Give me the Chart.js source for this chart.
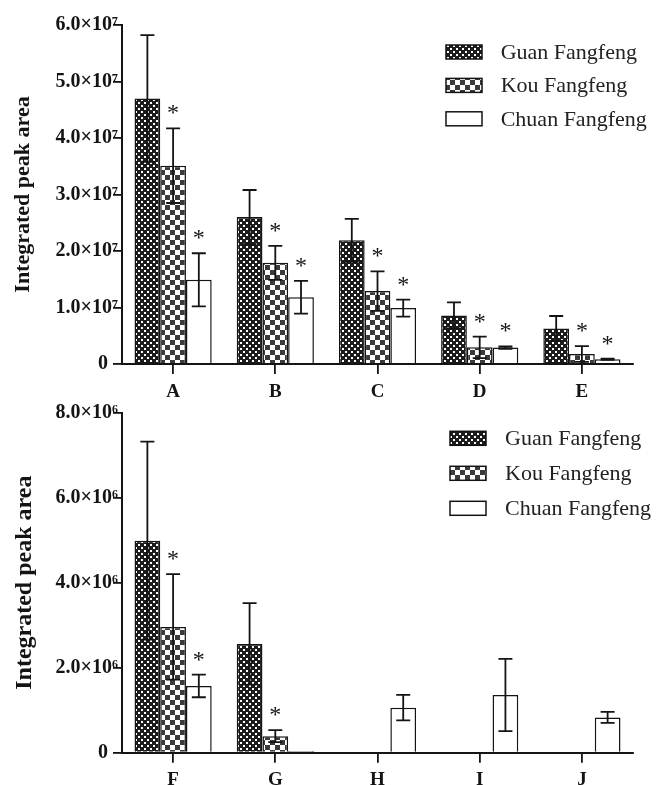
<!DOCTYPE html>
<html><head><meta charset="utf-8">
<script src="https://cdn.jsdelivr.net/npm/chart.js@4.4.1/dist/chart.umd.min.js"></script>
<style>
html,body{margin:0;padding:0;background:#fff;width:657px;height:785px;overflow:hidden}
#c1{position:absolute;left:0;top:0}
#c2{position:absolute;left:0;top:400px}
</style></head><body>
<canvas id="c1" width="657" height="400"></canvas>
<canvas id="c2" width="657" height="385"></canvas>
<script>
// ---------- data ----------
const seriesNames = ['Guan Fangfeng', 'Kou Fangfeng', 'Chuan Fangfeng'];
const yTitle = 'Integrated peak area';

const categoriesTop = ['A', 'B', 'C', 'D', 'E'];
const guanTop     = [4.70e7, 2.60e7, 2.19e7, 0.86e7, 0.63e7];
const guanErrTop  = [1.12e7, 0.48e7, 0.38e7, 0.23e7, 0.22e7];
const kouTop      = [3.51e7, 1.79e7, 1.29e7, 0.295e7, 0.177e7];
const kouErrTop   = [0.66e7, 0.30e7, 0.35e7, 0.19e7, 0.14e7];
const chuanTop    = [1.49e7, 1.18e7, 0.99e7, 0.29e7, 0.083e7];
const chuanErrTop = [0.47e7, 0.29e7, 0.15e7, 0.02e7, 0.01e7];
const guanSigTop  = [0, 0, 0, 0, 0];
const kouSigTop   = [1, 1, 1, 1, 1];
const chuanSigTop = [1, 1, 1, 1, 1];
const yTickValuesTop = [0, 1e7, 2e7, 3e7, 4e7, 5e7, 6e7];
const yTickLabelsTop = ['0\u2002', '1.0×10⁷', '2.0×10⁷', '3.0×10⁷', '4.0×10⁷', '5.0×10⁷', '6.0×10⁷'];

const categoriesBottom = ['F', 'G', 'H', 'I', 'J'];
const guanBottom     = [4.99e6, 2.56e6, null, null, null];
const guanErrBottom  = [2.33e6, 0.96e6, 0, 0, 0];
const kouBottom      = [2.96e6, 0.39e6, null, null, null];
const kouErrBottom   = [1.24e6, 0.14e6, 0, 0, 0];
const chuanBottom    = [1.57e6, 0.04e6, 1.06e6, 1.36e6, 0.83e6];
const chuanErrBottom = [0.265e6, 0, 0.30e6, 0.85e6, 0.13e6];
const guanSigBottom  = [0, 0, 0, 0, 0];
const kouSigBottom   = [1, 1, 0, 0, 0];
const chuanSigBottom = [1, 0, 0, 0, 0];
const yTickValuesBottom = [0, 2e6, 4e6, 6e6, 8e6];
const yTickLabelsBottom = ['0\u2002', '2.0×10⁶', '4.0×10⁶', '6.0×10⁶', '8.0×10⁶'];

// ---------- styling helpers ----------
const FAMILY = "'Liberation Serif','Times New Roman',serif";
const INK = '#141414';

function makePattern(kind) {
  const c = document.createElement('canvas');
  const ctx = c.getContext('2d');
  if (kind === 'dense') {
    c.width = 6; c.height = 6;
    ctx.fillStyle = '#1c1c1c'; ctx.fillRect(0, 0, 6, 6);
    ctx.fillStyle = '#ffffff';
    ctx.fillRect(0, 0, 2, 2); ctx.fillRect(3, 3, 2, 2);
  } else if (kind === 'check') {
    c.width = 10; c.height = 10;
    ctx.fillStyle = '#ffffff'; ctx.fillRect(0, 0, 10, 10);
    ctx.fillStyle = '#3a3a3a';
    ctx.fillRect(0, 0, 5, 5); ctx.fillRect(5, 5, 5, 5);
  } else {
    c.width = 2; c.height = 2;
    ctx.fillStyle = '#ffffff'; ctx.fillRect(0, 0, 2, 2);
  }
  return document.getElementById('c1').getContext('2d').createPattern(c, 'repeat');
}
const fills = [makePattern('dense'), makePattern('check'), makePattern('white')];

const errorBarPlugin = {
  id: 'errorBars',
  afterDatasetsDraw(chart, args, o) {
    const ctx = chart.ctx, y = chart.scales.y;
    chart.data.datasets.forEach((ds, di) => {
      const meta = chart.getDatasetMeta(di);
      ds.data.forEach((v, i) => {
        if (v == null) return;
        const bar = meta.data[i];
        const e = (ds.errors && ds.errors[i]) || 0;
        const x = bar.x;
        ctx.save();
        if (e > 0) {
          const yTop = y.getPixelForValue(v + e);
          const yBot = y.getPixelForValue(Math.max(v - e, 0));
          ctx.strokeStyle = INK; ctx.lineWidth = o.lineWidth;
          ctx.beginPath();
          ctx.moveTo(x, yTop); ctx.lineTo(x, yBot);
          ctx.moveTo(x - o.cap, yTop); ctx.lineTo(x + o.cap, yTop);
          ctx.moveTo(x - o.cap, yBot); ctx.lineTo(x + o.cap, yBot);
          ctx.stroke();
        }
        if (ds.sig && ds.sig[i]) {
          const yc = y.getPixelForValue(v + e) - o.starGap;
          ctx.fillStyle = INK;
          ctx.font = o.starFont;
          ctx.textAlign = 'center';
          ctx.textBaseline = 'alphabetic';
          ctx.fillText('*', x, yc + o.starDrop);
        }
        ctx.restore();
      });
    });
  }
};

const legendPlugin = {
  id: 'patternLegend',
  afterDraw(chart, args, o) {
    const ctx = chart.ctx, a = chart.chartArea;
    chart.data.datasets.forEach((ds, i) => {
      const bx = a.left + o.boxLeft;
      const cy = a.top + o.firstRow + i * o.rowGap;
      ctx.save();
      ctx.fillStyle = ds.backgroundColor;
      ctx.fillRect(bx, cy - o.boxH / 2, o.boxW, o.boxH);
      ctx.strokeStyle = INK; ctx.lineWidth = 1.5;
      ctx.strokeRect(bx, cy - o.boxH / 2, o.boxW, o.boxH);
      ctx.fillStyle = '#222';
      ctx.font = o.font;
      ctx.textAlign = 'left';
      ctx.textBaseline = 'middle';
      ctx.fillText(ds.label, bx + o.textDx, cy + 1);
      ctx.restore();
    });
  }
};

function buildChart(canvasId, cats, vals, errs, sigs, yMax, tickVals, tickLabels, cfg) {
  const datasets = vals.map((d, k) => ({
    label: seriesNames[k],
    data: d,
    errors: errs[k],
    sig: sigs[k],
    backgroundColor: fills[k],
    borderColor: INK,
    borderWidth: 1.5,
    categoryPercentage: 0.755,
    barPercentage: 1.0
  }));
  return new Chart(document.getElementById(canvasId), {
    type: 'bar',
    data: { labels: cats, datasets },
    plugins: [errorBarPlugin, legendPlugin],
    options: {
      responsive: false,
      animation: false,
      devicePixelRatio: 1,
      layout: { padding: { top: cfg.padTop, left: 0, right: 24, bottom: 0 } },
      plugins: {
        legend: { display: false },
        tooltip: { enabled: false },
        errorBars: { lineWidth: 1.8, cap: 7, starGap: 19, starDrop: 11, starFont: '24px ' + FAMILY },
        patternLegend: cfg.legend
      },
      scales: {
        x: {
          offset: true,
          grid: { display: true, drawOnChartArea: false, drawTicks: true, tickLength: 10, offset: false, color: INK, lineWidth: 1.8 },
          border: { display: true, color: INK, width: 2 },
          ticks: { font: { family: FAMILY, size: 19, weight: 'bold' }, color: INK, padding: cfg.xPad },
          afterFit(s) { s.height = cfg.xHeight; }
        },
        y: {
          min: 0, max: yMax,
          grid: { display: true, drawOnChartArea: false, drawTicks: true, tickLength: 9, color: INK, lineWidth: 1.8 },
          border: { display: true, color: INK, width: 2 },
          afterBuildTicks(s) { s.ticks = tickVals.map(v => ({ value: v })); },
          ticks: {
            font: { family: FAMILY, size: 20, weight: 'bold' }, color: INK, padding: -5,
            callback(v) { const i = tickVals.indexOf(v); return i >= 0 ? tickLabels[i] : ''; }
          },
          title: {
            display: true, text: yTitle, color: INK,
            font: { family: FAMILY, size: cfg.titleSize, weight: 'bold' },
            padding: { top: cfg.titlePad, bottom: 0 }
          },
          afterFit(s) { s.width = 122; }
        }
      }
    }
  });
}

buildChart('c1', categoriesTop,
  [guanTop, kouTop, chuanTop],
  [guanErrTop, kouErrTop, chuanErrTop],
  [guanSigTop, kouSigTop, chuanSigTop],
  6e7, yTickValuesTop, yTickLabelsTop,
  { padTop: 25, xHeight: 36, xPad: 7, titleSize: 22, titlePad: 10,
    legend: { boxLeft: 324, firstRow: 27, rowGap: 33.4, boxW: 36, boxH: 14, textDx: 54.7, font: '22px ' + FAMILY } });

buildChart('c2', categoriesBottom,
  [guanBottom, kouBottom, chuanBottom],
  [guanErrBottom, kouErrBottom, chuanErrBottom],
  [guanSigBottom, kouSigBottom, chuanSigBottom],
  8e6, yTickValuesBottom, yTickLabelsBottom,
  { padTop: 12.7, xHeight: 32.3, xPad: 6, titleSize: 24, titlePad: 10,
    legend: { boxLeft: 328, firstRow: 25.6, rowGap: 35, boxW: 36, boxH: 14, textDx: 55, font: '22px ' + FAMILY } });
</script>
</body></html>
